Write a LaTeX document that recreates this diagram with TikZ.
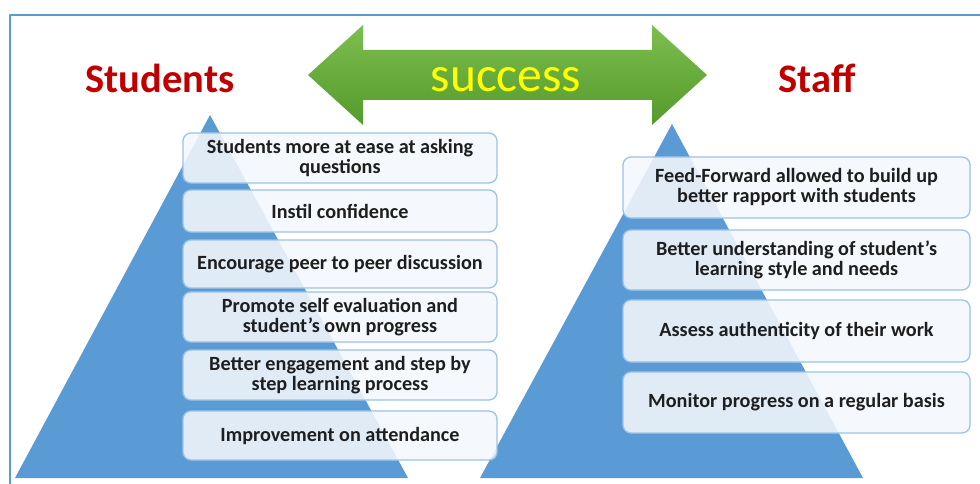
\documentclass[tikz,border=0pt]{standalone}
\usepackage{fontspec}
\setmainfont{Carlito}
\definecolor{pyramid}{HTML}{5B9BD5}
\definecolor{boxline}{HTML}{9DC3E6}
\definecolor{boxfill}{HTML}{F4F8FC}
\definecolor{boxtext}{HTML}{1E1E1E}
\definecolor{titlered}{HTML}{C00000}
\definecolor{greentop}{HTML}{7DBE4F}
\definecolor{greenbot}{HTML}{549A2C}
\definecolor{successtext}{HTML}{FFFF00}
\begin{document}
\begin{tikzpicture}[x=1pt, y=-1pt, line join=round,
	item/.style={draw=boxline, line width=1.3pt, rounded corners=8pt, fill=boxfill, fill opacity=0.87, text opacity=1, text=boxtext, align=center, inner sep=2pt, font=\fontsize{20.2}{20}\selectfont\bfseries},
	leftitem/.style={item, minimum width=314pt},
	rightitem/.style={item, minimum width=347pt},
	title/.style={text=titlered, anchor=base, inner sep=0pt, font=\fontsize{40.5}{44}\selectfont\bfseries}]
	\useasboundingbox (0,0) rectangle (980,484);
	\fill[white] (0,0) rectangle (980,484);
	\draw[pyramid, line width=1.5pt] (10,15) rectangle (995,500);
	\fill[pyramid] (210,115) coordinate(A) -- (408,478) coordinate(B) -- (15,478) coordinate(C) -- cycle;
	\fill[pyramid] (672,124) coordinate(D) -- (863,478) coordinate(E) -- (480,478) coordinate(F) -- cycle;
	\shade[top color=greentop, bottom color=greenbot] (308,75) -- (363,25) -- (363,50) -- (652,50) -- (652,25) -- (707,75) -- (652,125) -- (652,100) -- (363,100) -- (363,125) -- cycle;
	\node[text=successtext, anchor=base, inner sep=0pt, font=\fontsize{49.5}{52}\selectfont] (success) at (506,92) {success};
	\node[title] (students) at (160,93) {Students};
	\node[title] (staff) at (817,93) {Staff};
	\node[leftitem, minimum height=50pt] (s1) at (340,158) {Students more at ease at asking\\questions};
	\node[leftitem, minimum height=42pt] (s2) at (340,211) {Instil confidence};
	\node[leftitem, minimum height=48pt] (s3) at (340,264) {Encourage peer to peer discussion};
	\node[leftitem, minimum height=50pt] (s4) at (340,317) {Promote self evaluation and\\student’s own progress};
	\node[leftitem, minimum height=50pt] (s5) at (340,375) {Better engagement and step by\\step learning process};
	\node[leftitem, minimum height=49pt] (s6) at (340,435.5) {Improvement on attendance};
	\node[rightitem, minimum height=61pt] (t1) at (796.5,187.5) {Feed-Forward allowed to build up\\better rapport with students};
	\node[rightitem, minimum height=60pt] (t2) at (796.5,260) {Better understanding of student’s\\learning style and needs};
	\node[rightitem, minimum height=62pt] (t3) at (796.5,331) {Assess authenticity of their work};
	\node[rightitem, minimum height=61pt] (t4) at (796.5,402.5) {Monitor progress on a regular basis};
\end{tikzpicture}
\end{document}
